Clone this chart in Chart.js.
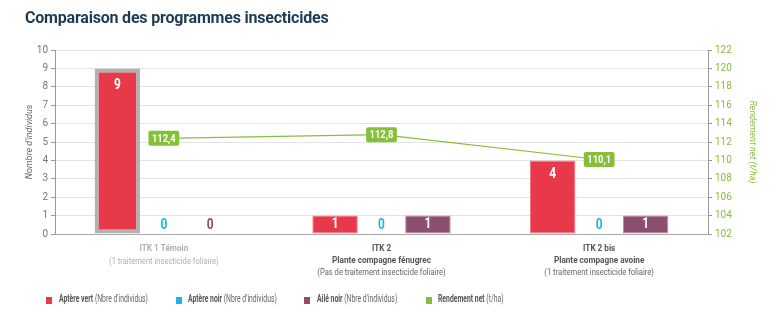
<!DOCTYPE html>
<html>
<head>
<meta charset="utf-8">
<script src="https://cdn.jsdelivr.net/npm/chart.js@4"></script>
<style>
  body { margin: 0; background: #fff; width: 780px; height: 330px; overflow: hidden; position: relative; }
  #wrap { position: absolute; left: 0; top: 0; width: 780px; height: 330px; }
  h1 { position: absolute; left: 25px; top: 8px; margin: 0; font: 700 16px Roboto, sans-serif; color: #1d3b52; letter-spacing: -0.2px; }
  .sq { position: absolute; top: 297px; width: 6px; height: 7px; }
  .leg { position: absolute; top: 292px; font: 11px Roboto, sans-serif; color: #666; white-space: nowrap;
         transform: scaleX(0.62); transform-origin: left center; }
  .leg b { color: #555; font-weight: 700; }
</style>
</head>
<body>
<div id="wrap"><canvas id="chart"></canvas></div>
<h1>Comparaison des programmes insecticides</h1>
<div class="sq" style="left:46px;background:#e8394b"></div>
<div class="leg" style="left:59px"><b>Aptère vert</b> (Nbre d'individus)</div>
<div class="sq" style="left:176px;background:#1cb5e8"></div>
<div class="leg" style="left:188px"><b>Aptère noir</b> (Nbre d'individus)</div>
<div class="sq" style="left:304px;background:#8c4f6f"></div>
<div class="leg" style="left:317px"><b>Ailé noir</b> (Nbre d'individus)</div>
<div class="sq" style="left:426px;background:#86bf3a"></div>
<div class="leg" style="left:438px"><b>Rendement net</b> (t/ha)</div>
<script>
// categories (lines: title, subtitle, treatment)
const categories = [
  ['ITK 1 Témoin', '(1 traitement insecticide foliaire)'],
  ['ITK 2', 'Plante compagne fénugrec', '(Pas de traitement insecticide foliaire)'],
  ['ITK 2 bis', 'Plante compagne avoine', '(1 traitement insecticide foliaire)']
];
const apteresVerts = [9, 1, 4];
const apteresNoirs = [0, 0, 0];
const ailesNoirs = [0, 1, 1];
const rendement = [112.4, 112.8, 110.1];

const RED = '#e8394b', BLUE = '#1cb5e8', PURPLE = '#8c4f6f', GREEN = '#86bf3a';
const FONT = 'Roboto, sans-serif';

// text squeezed horizontally (the original uses a condensed face)
function narrowText(ctx, t, x, y, sx) {
  ctx.save();
  ctx.translate(x, y);
  ctx.scale(sx, 1);
  ctx.fillText(t, 0, 0);
  ctx.restore();
}

// value labels on bars and on the line
const valueLabels = {
  id: 'valueLabels',
  afterDatasetsDraw(chart) {
    const ctx = chart.ctx;
    ctx.save();
    ctx.textAlign = 'center';
    ctx.textBaseline = 'middle';
    chart.data.datasets.forEach((ds, i) => {
      const meta = chart.getDatasetMeta(i);
      meta.data.forEach((el, j) => {
        const v = ds.data[j];
        if (ds.type === 'line') {
          const txt = v.toFixed(1).replace('.', ',');
          ctx.font = 'bold 11px ' + FONT;
          const w = ctx.measureText(txt).width * 0.85 + 7, h = 15;
          ctx.fillStyle = GREEN;
          ctx.beginPath();
          ctx.roundRect(el.x - w / 2, el.y - h / 2, w, h, 2);
          ctx.fill();
          ctx.fillStyle = '#fff';
          narrowText(ctx, txt, el.x, el.y + 0.5, 0.85);
        } else {
          const bw = Array.isArray(ds.borderWidth) ? ds.borderWidth[j] : 0;
          const y = Math.min(el.y + bw + 13, el.base - 9);
          ctx.font = 'bold 14px ' + FONT;
          ctx.fillStyle = v > 0 ? '#fff' : ds.backgroundColor;
          narrowText(ctx, String(v), el.x, y, 0.85);
        }
      });
    });
    ctx.restore();
  }
};

// multi-line category labels under the x axis
const catLabels = {
  id: 'catLabels',
  afterDraw(chart) {
    const ctx = chart.ctx, x = chart.scales.x;
    ctx.save();
    ctx.textAlign = 'center';
    ctx.textBaseline = 'middle';
    categories.forEach((lines, i) => {
      const cx = x.getPixelForTick(i);
      lines.forEach((t, k) => {
        const last = k === lines.length - 1;
        ctx.font = (last ? '' : 'bold ') + '9.5px ' + FONT;
        ctx.fillStyle = i === 0 ? '#b0b0b0' : (last ? '#666' : '#555');
        const y = i === 0 ? 249 + k * 13 : 249 + k * 12;
        narrowText(ctx, t, cx, y, last ? 0.8 : 0.86);
      });
    });
    ctx.restore();
  }
};

new Chart(document.getElementById('chart'), {
  data: {
    labels: categories.map(c => c[0]),
    datasets: [
      {
        type: 'line', label: 'Rendement net', data: rendement, yAxisID: 'y1', order: 0,
        borderColor: GREEN, borderWidth: 1.2, pointRadius: 0, tension: 0
      },
      {
        type: 'bar', label: 'Aptère vert', data: apteresVerts, yAxisID: 'y', order: 1,
        backgroundColor: RED, borderColor: ['#b2b2b2', '#f07c88', '#f07c88'], borderWidth: [4, 1, 1],
        borderSkipped: false
      },
      {
        type: 'bar', label: 'Aptère noir', data: apteresNoirs, yAxisID: 'y', order: 1,
        backgroundColor: BLUE
      },
      {
        type: 'bar', label: 'Ailé noir', data: ailesNoirs, yAxisID: 'y', order: 1,
        backgroundColor: PURPLE, borderColor: '#b58ea2', borderWidth: 1, borderSkipped: false
      }
    ]
  },
  options: {
    responsive: true,
    maintainAspectRatio: false,
    animation: false,
    layout: { padding: { left: 24, right: 22, top: 50, bottom: 96 } },
    datasets: { bar: { categoryPercentage: 0.64, barPercentage: 0.98 } },
    plugins: { legend: { display: false }, tooltip: { enabled: false } },
    scales: {
      x: {
        grid: { display: false },
        ticks: { display: false },
        border: { color: '#aaa' },
        afterFit: s => { s.height = 0; }
      },
      y: {
        position: 'left', min: 0, max: 10,
        ticks: { stepSize: 1, color: '#777', padding: 3, font: { size: 10, family: FONT } },
        grid: { color: '#e3e3e3', tickColor: '#999', tickLength: 4 },
        border: { color: '#999' },
        title: { display: true, text: "Nombre d'individus", color: '#666', padding: 0,
                 font: { size: 9, style: 'italic', family: FONT } },
        afterFit: s => { s.width = 31; }
      },
      y1: {
        position: 'right', min: 102, max: 122,
        ticks: { stepSize: 2, color: GREEN, padding: 3, font: { size: 10, family: FONT } },
        grid: { drawOnChartArea: false, tickColor: '#999', tickLength: 4 },
        border: { color: '#999' },
        title: { display: true, text: 'Rendement net (t/ha)', color: GREEN, padding: 0,
                 font: { size: 9, style: 'italic', family: FONT } },
        afterFit: s => { s.width = 50; }
      }
    }
  },
  plugins: [valueLabels, catLabels]
});
</script>
</body>
</html>
